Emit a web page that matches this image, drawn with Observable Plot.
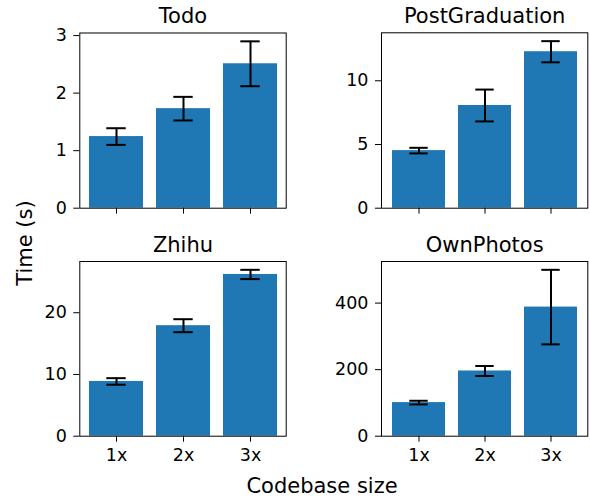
<!DOCTYPE html>
<html>
<head>
<meta charset="utf-8">
<script src="https://cdn.jsdelivr.net/npm/d3@7"></script>
<script src="https://cdn.jsdelivr.net/npm/@observablehq/plot@0.6"></script>
<style>
  html, body { margin: 0; padding: 0; background: #fff; }
  #root { position: relative; width: 590px; height: 499px; font-family: "DejaVu Sans", sans-serif; color: #000; }
  .panel { position: absolute; }
  .lab { position: absolute; font-size: 21px; white-space: nowrap; line-height: 1; }
</style>
</head>
<body>
<div id="root"></div>
<script>
const categories = ["1x", "2x", "3x"];

const todoMean = [1.245, 1.73, 2.51];
const todoErr = [0.145, 0.205, 0.39];
const pgMean = [4.52, 8.06, 12.28];
const pgErr = [0.22, 1.25, 0.83];
const zhihuMean = [8.87, 17.9, 26.2];
const zhihuErr = [0.53, 1.05, 0.75];
const opMean = [101, 196, 388];
const opErr = [5.5, 15, 112];

const panelTitles = ["Todo", "PostGraduation", "Zhihu", "OwnPhotos"];
const yTicks = [[0, 1, 2, 3], [0, 5, 10], [0, 10, 20], [0, 200, 400]];

const series = [[todoMean, todoErr], [pgMean, pgErr], [zhihuMean, zhihuErr], [opMean, opErr]];

// panel boxes: [left, top, width, height, marginLeft, marginTop, marginRight, marginBottom]
const boxes = [
  [0, 0, 295, 230, 79.3, 32.5, 9.3, 22.3],
  [295, 0, 295, 230, 86, 32.3, 2.7, 22.3],
  [0, 230, 295, 240, 79.3, 31, 9.3, 34.3],
  [295, 230, 295, 240, 86, 31, 2.7, 34.3]
];

const root = document.getElementById("root");

series.forEach(([mean, err], i) => {
  const data = categories.map((c, j) => ({cat: c, mean: mean[j], lo: mean[j] - err[j], hi: mean[j] + err[j]}));
  const top = d3.max(data, d => d.hi) * 1.05;
  const [left, tp, w, h, ml, mt, mr, mb] = boxes[i];
  const bottomRow = i >= 2;
  const chart = Plot.plot({
    width: w,
    height: h,
    marginLeft: ml,
    marginTop: mt,
    marginRight: mr,
    marginBottom: mb,
    style: {fontFamily: "DejaVu Sans, sans-serif", fontSize: "17.5px", color: "#000", background: "none", overflow: "visible"},
    x: {type: "band", domain: categories, paddingInner: 0.2, paddingOuter: 0.14, label: null},
    y: {domain: [0, top], label: null},
    marks: [
      Plot.barY(data, {x: "cat", y: "mean", fill: "#1f77b4"}),
      Plot.ruleX(data, {x: "cat", y1: "lo", y2: "hi", stroke: "#000", strokeWidth: 2}),
      Plot.tickY(data, {x: "cat", y: "lo", stroke: "#000", strokeWidth: 2, insetLeft: 17.3, insetRight: 17.3}),
      Plot.tickY(data, {x: "cat", y: "hi", stroke: "#000", strokeWidth: 2, insetLeft: 17.3, insetRight: 17.3}),
      Plot.axisY({ticks: yTicks[i], tickFormat: d3.format("d"), tickSize: 6, tickPadding: 7, label: null, fontSize: 17.5}),
      Plot.axisX({tickSize: 6, tickPadding: 6, label: null, fontSize: 17.5, tickFormat: bottomRow ? d => d : () => ""}),
      Plot.frame({stroke: "#000", strokeWidth: 1}),
      Plot.text([panelTitles[i]], {frameAnchor: "top", dy: -10, lineAnchor: "bottom", fontSize: 21, fill: "#000"})
    ]
  });
  chart.classList.add("panel");
  chart.style.left = left + "px";
  chart.style.top = tp + "px";
  root.appendChild(chart);
});

const xl = document.createElement("div");
xl.className = "lab";
xl.textContent = "Codebase size";
xl.style.left = "322px";
xl.style.top = "476px";
xl.style.transform = "translateX(-50%)";
root.appendChild(xl);

const yl = document.createElement("div");
yl.className = "lab";
yl.textContent = "Time (s)";
yl.style.left = "25px";
yl.style.top = "243px";
yl.style.transform = "translate(-50%, -50%) rotate(-90deg)";
root.appendChild(yl);
</script>
</body>
</html>
